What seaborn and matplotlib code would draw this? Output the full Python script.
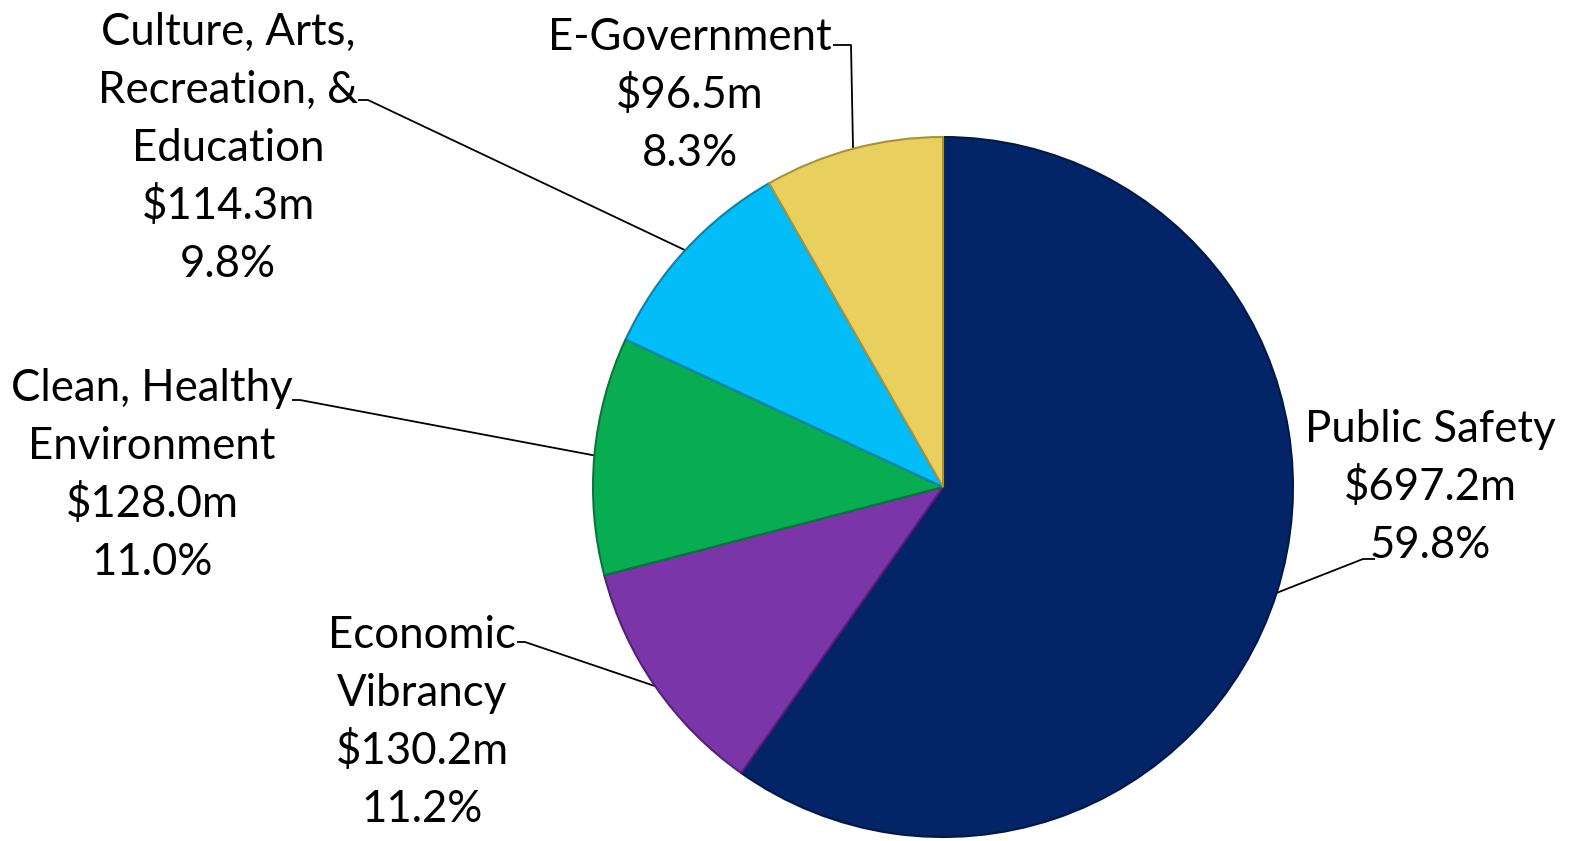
import numpy as np
import seaborn as sns
import matplotlib.pyplot as plt

# data
categories = ["Public Safety", "Economic Vibrancy", "Clean, Healthy Environment",
              "Culture, Arts, Recreation, & Education", "E-Government"]
amounts = [697.2, 130.2, 128.0, 114.3, 96.5]
percents = [59.8, 11.2, 11.0, 9.8, 8.3]
colors = ["#042468", "#7A36A8", "#08AD52", "#03BDF8", "#E8CF5E"]
edges = ["#021845", "#55207A", "#05793A", "#0285B0", "#A8923A"]

# how each label is broken into lines
label_lines = [
    ["Public Safety"],
    ["Economic", "Vibrancy"],
    ["Clean, Healthy", "Environment"],
    ["Culture, Arts,", "Recreation, &", "Education"],
    ["E-Government"],
]

W, H = 1577, 841
sns.set_theme(style="white")
plt.rcParams["font.family"] = ["Lato", "DejaVu Sans"]

fig = plt.figure(figsize=(W / 100, H / 100), dpi=100)
ax = fig.add_axes([0, 0, 1, 1])

cx, cy, r = 943, H - 487, 350
wedges, _ = ax.pie(amounts, colors=colors, startangle=90, counterclock=False,
                   center=(cx, cy), radius=r, frame=True,
                   wedgeprops=dict(linewidth=1.5))
for w, ec in zip(wedges, edges):
    w.set_edgecolor(ec)
ax.set_xlim(0, W)
ax.set_ylim(0, H)
ax.set_aspect("equal", adjustable="datalim")
ax.axis("off")

# label layout: text centre x, first line y (from top), elbow of leader line
label_x = [1430, 422, 152, 228, 690]
label_y0 = [427, 633, 386, 30, 35]
elbow_start = [(1375, 559), (517, 642), (292, 400), (358, 100), (833, 45)]
elbow_end = [(1363, 559), (525, 642), (300, 400), (368, 100), (851, 45)]
pitch = 58

for i, w in enumerate(wedges):
    lines = label_lines[i] + [f"${amounts[i]:.1f}m", f"{percents[i]:.1f}%"]
    for j, line in enumerate(lines):
        ax.text(label_x[i], H - (label_y0[i] + j * pitch) - 15, line,
                ha="center", va="baseline", fontsize=31.5, color="black")
    ang = np.deg2rad((w.theta1 + w.theta2) / 2)
    px, py = cx + r * np.cos(ang), cy + r * np.sin(ang)
    (x0, y0), (x1, y1) = elbow_start[i], elbow_end[i]
    ax.plot([x0, x1, px], [H - y0, H - y1, py], color="black", lw=1.3,
            solid_capstyle="butt", zorder=0)

fig.savefig("out.png", dpi=100, facecolor="white")
